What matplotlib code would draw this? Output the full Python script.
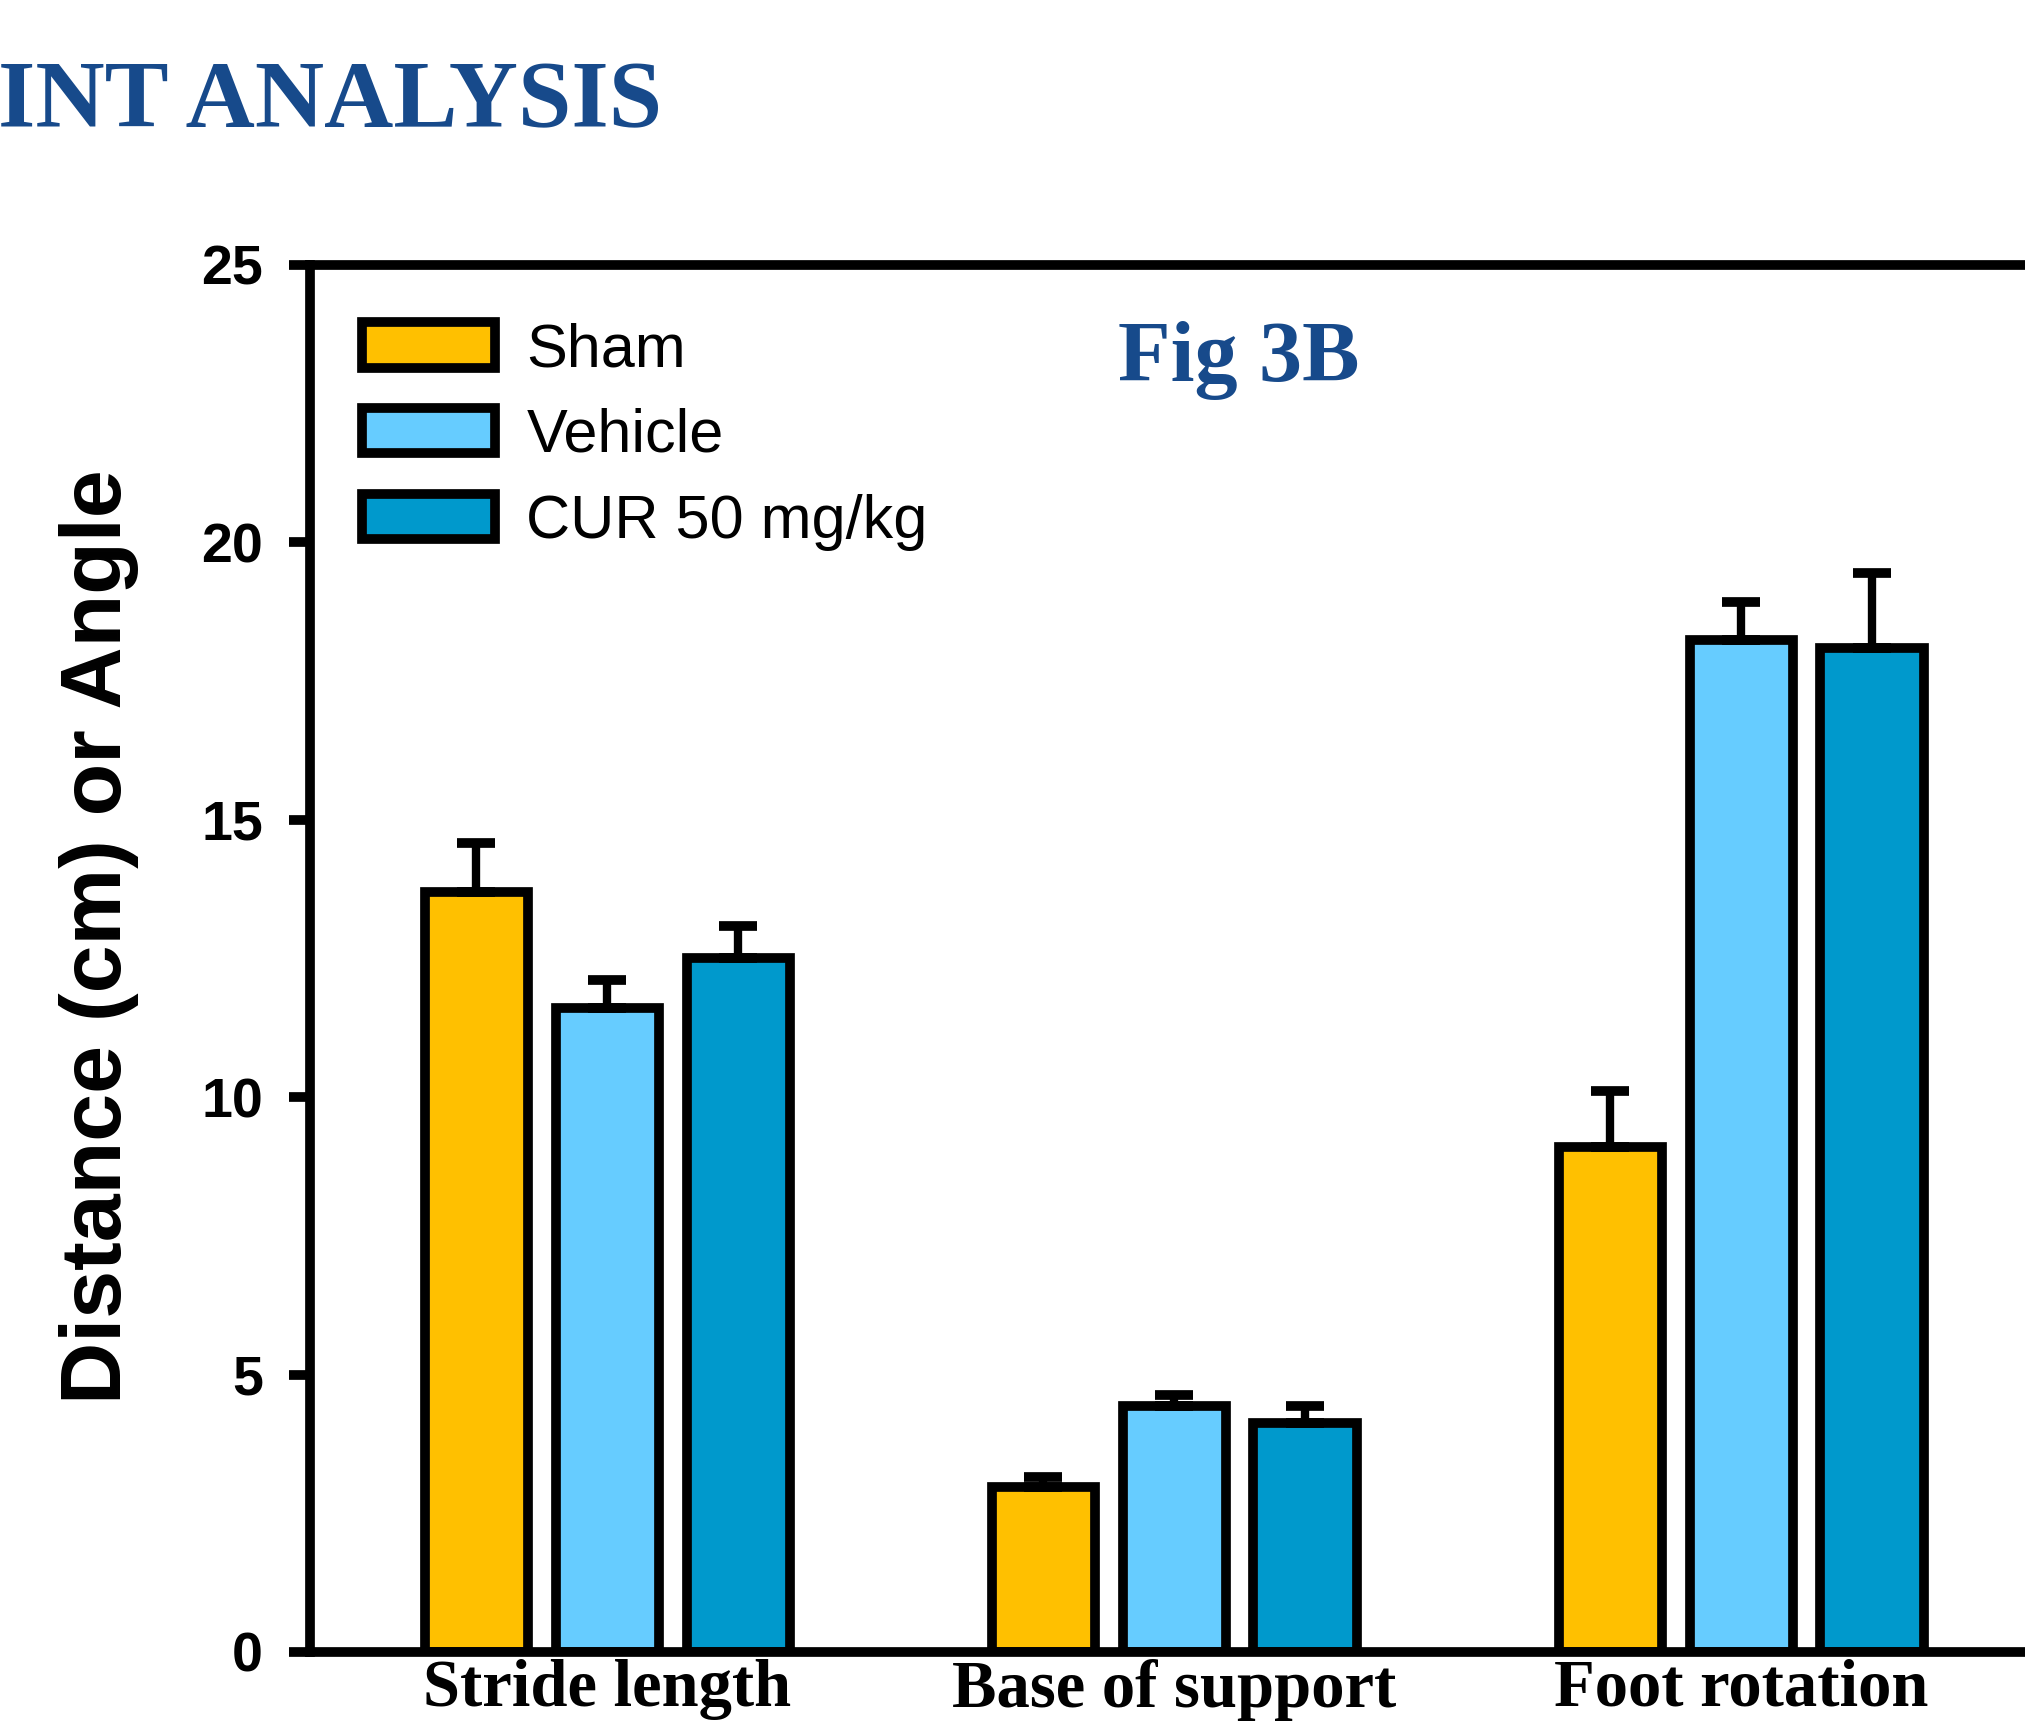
import numpy as np
import matplotlib
matplotlib.use('Agg')
import matplotlib.pyplot as plt

# data
categories = ['Stride length', 'Base of support', 'Foot rotation']
groups = ['Sham', 'Vehicle', 'CUR 50 mg/kg']
sham = [13.70, 2.98, 9.11]
vehicle = [11.60, 4.43, 18.24]
cur = [12.51, 4.12, 18.10]
sham_err = [0.88, 0.17, 1.00]
vehicle_err = [0.52, 0.21, 0.68]
cur_err = [0.58, 0.31, 1.35]
yticks = [0, 5, 10, 15, 20, 25]

colors = ['#FFC000', '#66CCFF', '#0099CC']
serif = 'Liberation Serif'
sans = 'Liberation Sans'
title_blue = '#174a8b'

fig = plt.figure(figsize=(20.25, 17.26), dpi=100)
fig.patch.set_facecolor('white')

# axes box runs off the right edge of the picture, like the reference crop
ax = fig.add_axes([0.1531, 0.0429, 0.9027, 0.8036])

x = np.arange(len(categories))
pitch = 0.231
width = 0.182
series = [sham, vehicle, cur]
errs = [sham_err, vehicle_err, cur_err]
for i in range(3):
    ax.bar(x + (i - 1) * pitch, series[i], width, color=colors[i],
           edgecolor='black', linewidth=7, label=groups[i], zorder=2,
           yerr=[np.zeros(3), errs[i]],
           error_kw=dict(ecolor='black', elinewidth=6, capsize=14,
                         capthick=7, zorder=3))

ax.set_xlim(-0.524, 2.7)
ax.set_ylim(0, 25)

for side in ['left', 'top', 'bottom', 'right']:
    ax.spines[side].set_linewidth(7)

ax.set_yticks(yticks)
ax.set_yticklabels([str(t) for t in yticks], fontfamily=sans,
                   fontweight='bold', fontsize=40)
ax.tick_params(axis='y', direction='out', length=15, width=7, pad=19)

ax.set_xticks(x)
ax.set_xticklabels(categories, fontfamily=serif, fontweight='bold',
                   fontsize=48)
ax.tick_params(axis='x', length=0, pad=5)

ax.set_ylabel('Distance (cm) or Angle', fontfamily=sans,
              fontweight='bold', fontsize=62)
ax.yaxis.set_label_coords(-0.0935, 0.516)

leg = ax.legend(loc='upper left', bbox_to_anchor=(0.1788, 0.8134),
                bbox_transform=fig.transFigure, frameon=False,
                borderpad=0, borderaxespad=0, handlelength=2.18,
                handleheight=0.77, handletextpad=0.51, labelspacing=0.47,
                prop=dict(family=sans, size=44))

fig.text(-0.001, 0.926, 'INT ANALYSIS', fontfamily=serif,
         fontweight='bold', fontsize=69, color=title_blue,
         ha='left', va='baseline')
fig.text(0.6116, 0.779, 'Fig 3B', fontfamily=serif, fontweight='bold',
         fontsize=62, color=title_blue, ha='center', va='baseline')

fig.savefig('out.png', dpi=100)
